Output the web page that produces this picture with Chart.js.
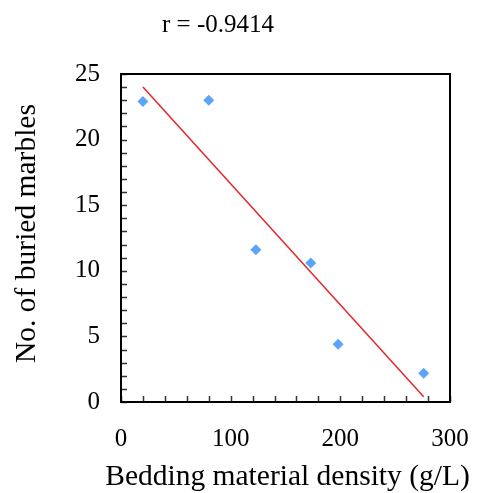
<!DOCTYPE html>
<html>
<head>
<meta charset="utf-8">
<script src="https://cdn.jsdelivr.net/npm/chart.js@4"></script>
<style>
  html, body { margin: 0; padding: 0; background: #fff; }
  #wrap { width: 481px; height: 493px; }
</style>
</head>
<body>
<div id="wrap"><canvas id="marbleChart" width="481" height="493"></canvas></div>
<script>

/* bedding density vs buried marbles */
const densities = [20, 80, 123, 173, 198, 276];
const buriedMarbles = [22.9, 23.0, 11.6, 10.6, 4.4, 2.2];

/* fitted trend line end points */
const fitX = [20, 276];
const fitY = [24.0, 0.4];

const xTickLabels = [0, 100, 200, 300];
const yTickLabels = [0, 5, 10, 15, 20, 25];
const xMinorStep = 20;
const yMinorStep = 1;

const corrText = "r = -0.9414";
const xTitle = "Bedding material density (g/L)";
const yTitle = "No. of buried marbles";
const serif = "'Liberation Serif', 'Times New Roman', serif";


/* ================================
   FRAME, INNER TICKS, TEXT
================================ */

const framePlugin = {
    id: "frame",
    afterDraw(chart){
        const ctx = chart.ctx;
        const area = chart.chartArea;
        const xs = chart.scales.x;
        const ys = chart.scales.y;

        ctx.save();

        // minor ticks pointing into the plot
        ctx.strokeStyle = "#333";
        ctx.lineWidth = 1.5;
        ctx.beginPath();
        for(let v = xs.min; v <= xs.max; v += xMinorStep){
            const px = Math.round(xs.getPixelForValue(v)) + 0.5;
            ctx.moveTo(px, area.bottom);
            ctx.lineTo(px, area.bottom - 6);
        }
        for(let v = ys.min; v <= ys.max; v += yMinorStep){
            const py = Math.round(ys.getPixelForValue(v)) + 0.5;
            ctx.moveTo(area.left, py);
            ctx.lineTo(area.left + 6, py);
        }
        ctx.stroke();

        // box round the plot
        ctx.strokeStyle = "#000";
        ctx.lineWidth = 2;
        ctx.strokeRect(area.left, area.top, area.right - area.left, area.bottom - area.top);

        ctx.fillStyle = "#000";
        ctx.textAlign = "center";
        ctx.textBaseline = "middle";

        // correlation label
        ctx.font = "25px " + serif;
        ctx.fillText(corrText, 218, 25);

        // x axis title
        ctx.font = "29.5px " + serif;
        ctx.fillText(xTitle, (area.left + area.right) / 2 + 2, 477);

        // y axis title
        ctx.save();
        ctx.translate(27, 233.5);
        ctx.rotate(-Math.PI / 2);
        ctx.fillText(yTitle, 0, 0);
        ctx.restore();

        ctx.restore();
    }
};


const points = densities.map((d, i)=>({x: d, y: buriedMarbles[i]}));
const fitLine = fitX.map((d, i)=>({x: d, y: fitY[i]}));

new Chart(document.getElementById("marbleChart").getContext("2d"), {

    type: "scatter",

    data: {
        datasets: [
            {
                label: "Marbles",
                data: points,
                pointStyle: "rectRot",
                pointRadius: 5.5,
                pointBorderWidth: 0,
                backgroundColor: "#5ea3fa",
                borderColor: "#5ea3fa"
            },
            {
                label: "Fit",
                type: "line",
                data: fitLine,
                borderColor: "#e3262c",
                borderWidth: 1.5,
                pointRadius: 0,
                fill: false
            }
        ]
    },

    options: {
        responsive: false,
        animation: false,
        layout: {
            padding: {top: 74, right: 31, left: 0, bottom: 0}
        },
        plugins: {
            legend: {display: false},
            tooltip: {enabled: false}
        },
        scales: {
            x: {
                type: "linear",
                min: 0,
                max: 300,
                grid: {display: false, drawTicks: false},
                border: {display: false},
                afterBuildTicks(scale){
                    scale.ticks = xTickLabels.map(v=>({value: v}));
                },
                afterFit(scale){
                    scale.height = 91;
                    scale.paddingLeft = 0;
                    scale.paddingRight = 0;
                },
                ticks: {
                    padding: 22,
                    color: "#000",
                    font: {family: serif, size: 25}
                }
            },
            y: {
                type: "linear",
                min: 0,
                max: 25,
                grid: {display: false, drawTicks: false},
                border: {display: false},
                afterBuildTicks(scale){
                    scale.ticks = yTickLabels.map(v=>({value: v}));
                },
                afterFit(scale){
                    scale.width = 121;
                    scale.paddingTop = 0;
                    scale.paddingBottom = 0;
                },
                ticks: {
                    padding: 21,
                    color: "#000",
                    font: {family: serif, size: 25}
                }
            }
        }
    },

    plugins: [framePlugin]
});

</script>
</body>
</html>
